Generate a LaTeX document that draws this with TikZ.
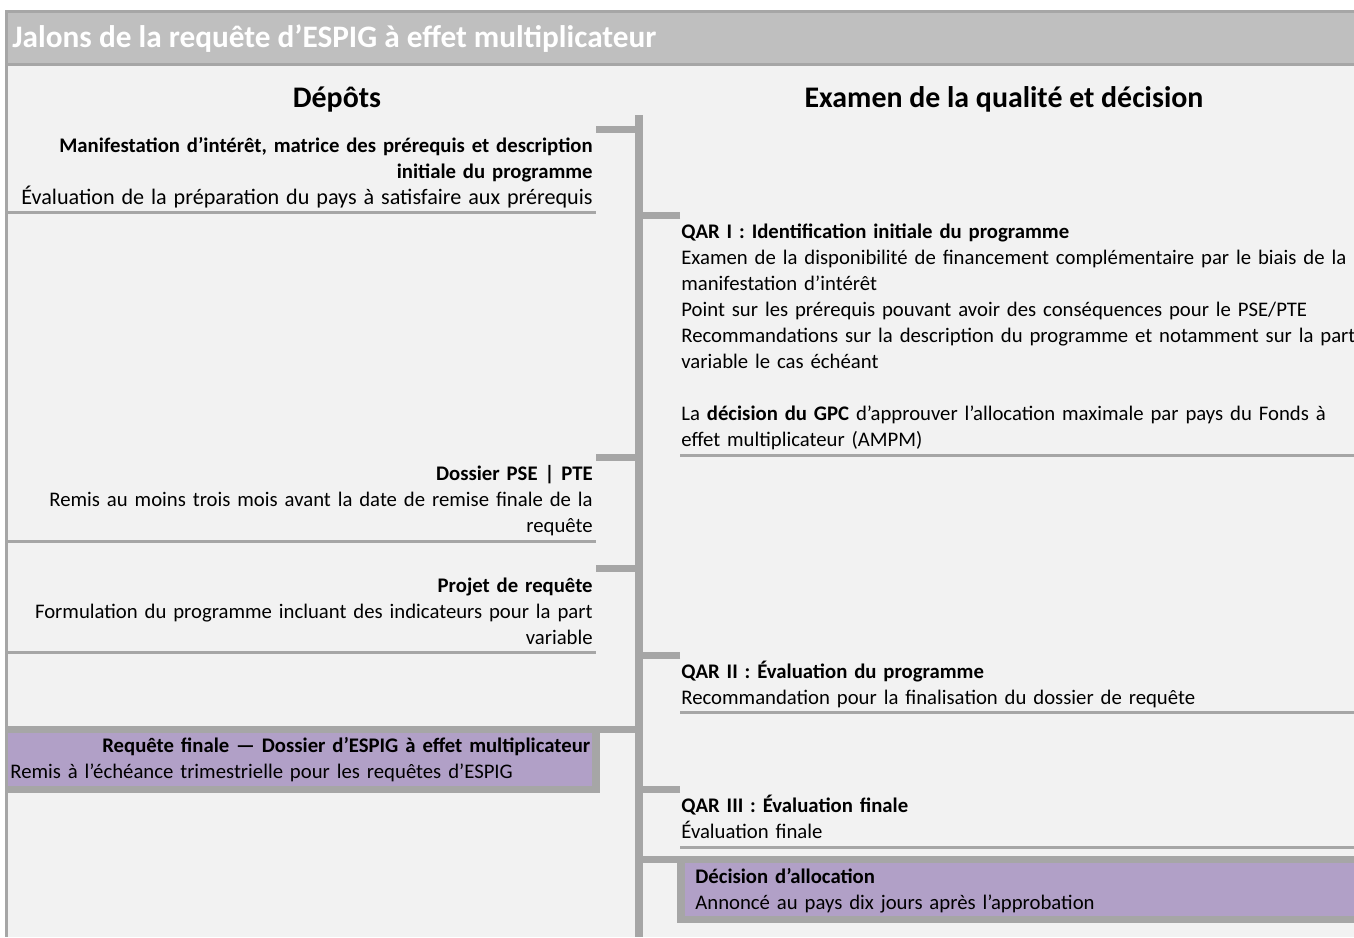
\documentclass[tikz,border=0pt]{standalone}
\usepackage{fontspec}
\setmainfont{Carlito}
\usetikzlibrary{calc}
\usetikzlibrary{positioning}

\definecolor{bandgray}{HTML}{BFBFBF}
\definecolor{rulegray}{HTML}{A6A6A6}
\definecolor{paper}{HTML}{F2F2F2}
\definecolor{lilac}{HTML}{B1A0C7}

\begin{document}
\begin{tikzpicture}[x=0.02cm, y=-0.02cm,
    txt/.style={inner sep=0pt, font=\fontsize{11.8}{14.8}\selectfont},
    depot/.style={txt, anchor=base east, text width=11.7cm, align=right},
    exam/.style={txt, anchor=base west, text width=14cm, align=left},
    heading/.style={inner sep=0pt, anchor=base, font=\fontsize{17}{20}\selectfont\bfseries},
    thinrule/.style={draw=rulegray, line width=1.7pt},
    tick/.style={draw=rulegray, line width=4pt},
    bar/.style={draw=rulegray, line width=4.6pt}]

    \useasboundingbox (0,0) rectangle (1354,937);
    \fill [white] (0,0) rectangle (1354,937);
    \fill [paper] (6,10) rectangle (1354,937);
    \fill [bandgray] (6,10) rectangle (1354,66);
    \draw [thinrule] (1354,11.5) -- (6.5,11.5) -- (6.5,937);
    \draw [thinrule] (6.5,64.5) -- (1354,64.5);

    \node [anchor=base west, inner sep=0pt, text=white, font=\fontsize{17.8}{20}\selectfont\bfseries] (title) at (12,47) {Jalons de la requête d’ESPIG à effet multiplicateur};
    \node [heading] (depots) at (337,107) {Dépôts};
    \node [heading] (examen) at (1004,107) {Examen de la qualité et décision};

    \coordinate (bartop) at (639,115);
    \coordinate (barbot) at (639,937);
    \draw [bar] (bartop) -- (barbot);

    \node [depot] (dep1) at (593,152) {\textbf{Manifestation d’intérêt, matrice des prérequis et description}\\ \textbf{initiale du programme}\\ {\fontsize{12.6}{14.8}\selectfont Évaluation de la préparation du pays à satisfaire aux prérequis}};
    \node [depot] (dep2) at (593,480) {\textbf{Dossier PSE | PTE}\\ Remis au moins trois mois avant la date de remise finale de la\\ requête};
    \node [depot] (dep3) at (593,592) {\textbf{Projet de requête}\\ Formulation du programme incluant des indicateurs pour la part\\ variable};

    \node [exam] (qar1) at (681,238) {\textbf{QAR I : Identification initiale du programme}\\ Examen de la disponibilité de financement complémentaire par le biais de la\\ manifestation d’intérêt\\ Point sur les prérequis pouvant avoir des conséquences pour le PSE/PTE\\ Recommandations sur la description du programme et notamment sur la part\\ variable le cas échéant\\[14.8pt] La \textbf{décision du GPC} d’approuver l’allocation maximale par pays du Fonds à\\ effet multiplicateur (AMPM)};
    \node [exam] (qar2) at (681,678) {\textbf{QAR II : Évaluation du programme}\\ Recommandation pour la finalisation du dossier de requête};
    \node [exam] (qar3) at (681,812) {\textbf{QAR III : Évaluation finale}\\ Évaluation finale};

    \coordinate (dep1tick) at (596,129.5);
    \coordinate (dep2tick) at (596,457.5);
    \coordinate (dep3tick) at (596,568.5);
    \coordinate (qar1tick) at (680,215.5);
    \coordinate (qar2tick) at (680,655.5);
    \coordinate (qar3tick) at (680,789.5);
    \draw [tick] (dep1tick) -- (dep1tick -| bartop);
    \draw [tick] (dep2tick) -- (dep2tick -| bartop);
    \draw [tick] (dep3tick) -- (dep3tick -| bartop);
    \draw [tick] (qar1tick) -- (qar1tick -| bartop);
    \draw [tick] (qar2tick) -- (qar2tick -| bartop);
    \draw [tick] (qar3tick) -- (qar3tick -| bartop);

    \draw [thinrule] (6,212) -- (596,212);
    \draw [thinrule] (6,541) -- (596,541);
    \draw [thinrule] (6,652) -- (596,652);
    \draw [thinrule] (680,455) -- (1354,455);
    \draw [thinrule] (680,712) -- (1354,712);
    \draw [thinrule] (680,847) -- (1354,847);

    \fill [rulegray] (6,726) rectangle (635,733);
    \fill [rulegray] (8,733) rectangle (600,793);
    \fill [lilac] (8,733) rectangle (592,786);
    \node [txt, anchor=base west, text width=11.6cm, align=left] (dep4) at (10,752) {\hfill\textbf{Requête finale — Dossier d’ESPIG à effet multiplicateur}\\ Remis à l’échéance trimestrielle pour les requêtes d’ESPIG};

    \fill [rulegray] (643,856) rectangle (1354,863);
    \fill [rulegray] (677,863) rectangle (1354,923);
    \fill [lilac] (685,863) rectangle (1354,916);
    \node [exam] (dec) at (695,883) {\textbf{Décision d’allocation}\\ Annoncé au pays dix jours après l’approbation};
\end{tikzpicture}
\end{document}
